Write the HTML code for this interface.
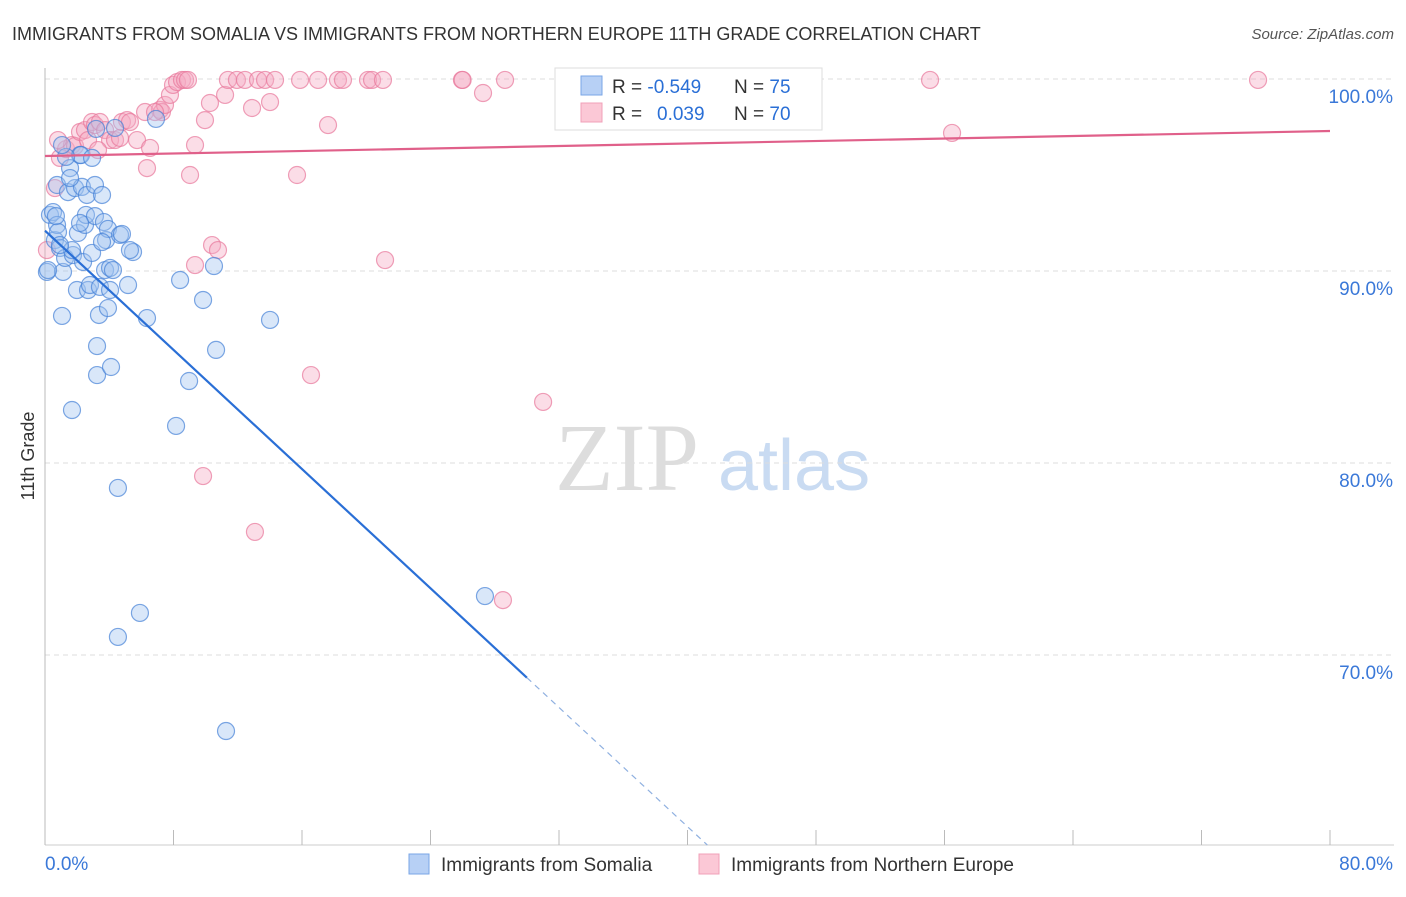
<!DOCTYPE html>
<html><head><meta charset="utf-8"><style>
body{margin:0;background:#fff;font-family:"Liberation Sans",sans-serif}
</style></head><body>
<svg id="chart" width="1406" height="892" viewBox="0 0 1406 892" xmlns="http://www.w3.org/2000/svg" font-family="Liberation Sans, sans-serif">
<text x="12" y="40" font-size="18" fill="#333">IMMIGRANTS FROM SOMALIA VS IMMIGRANTS FROM NORTHERN EUROPE 11TH GRADE CORRELATION CHART</text>
<text x="1394" y="39" font-size="15" fill="#555" text-anchor="end" font-style="italic">Source: ZipAtlas.com</text>
<g>
<text x="555" y="490" font-size="96" fill="#ddd" font-family="Liberation Serif, serif">ZIP</text>
<text x="718" y="490" font-size="72" fill="#c9dbf2">atlas</text>
</g>
<g id="grid"></g>
<g id="axes"></g>
<g id="pts"></g>
<g id="lines"></g>
<text transform="translate(34,456) rotate(-90)" font-size="18" fill="#333" text-anchor="middle">11th Grade</text>
<g>
<rect x="555" y="68" width="267" height="62" fill="#fff" stroke="#ddd"/>
<rect x="581" y="76" width="21" height="19" fill="#b7d0f5" stroke="#7aa6e6"/>
<rect x="581" y="103" width="21" height="19" fill="#fbc8d6" stroke="#f0a0b8"/>
<text x="612" y="93" font-size="19" fill="#333">R = <tspan fill="#2a6fd6">-0.549</tspan></text>
<text x="734" y="93" font-size="19" fill="#333">N = <tspan fill="#2a6fd6">75</tspan></text>
<text x="612" y="120" font-size="19" fill="#333">R = <tspan fill="#2a6fd6" x="657">0.039</tspan></text>
<text x="734" y="120" font-size="19" fill="#333">N = <tspan fill="#2a6fd6">70</tspan></text>
</g>
<g>
<rect x="409" y="854" width="20" height="20" fill="#b7d0f5" stroke="#7aa6e6"/>
<text x="441" y="871" font-size="19" fill="#333">Immigrants from Somalia</text>
<rect x="699" y="854" width="20" height="20" fill="#fbc8d6" stroke="#f0a0b8"/>
<text x="731" y="871" font-size="19" fill="#333">Immigrants from Northern Europe</text>
</g>
</svg>
<script>
const blueX=[0.12,0.31,0.50,0.62,0.75,0.75,0.81,0.93,1.06,1.12,1.25,1.43,1.56,1.68,1.74,1.87,1.99,2.05,2.18,2.24,2.30,2.37,2.49,2.55,2.61,2.68,2.80,2.93,3.11,3.11,3.24,3.24,3.36,3.42,3.55,3.67,3.74,3.80,3.92,3.92,4.05,4.11,4.23,4.36,4.54,4.54,4.67,4.79,5.17,5.48,5.91,6.35,6.91,8.16,8.41,8.97,9.84,10.52,10.65,11.27,14.01,27.39,1.31,3.18,2.93,1.06,4.05,1.68,0.93,0.68,1.56,2.18,3.55,5.29,0.19];
const blueY=[89.95,92.92,93.07,91.61,92.40,94.48,92.03,91.20,87.66,89.95,90.68,94.11,95.36,82.76,90.83,94.32,89.01,91.98,96.04,96.04,94.38,90.47,92.40,92.92,93.96,89.01,89.27,90.94,92.86,94.48,86.09,84.58,87.71,89.17,93.96,92.55,90.05,91.61,92.19,88.07,90.16,85.00,90.05,97.45,78.70,70.94,91.88,91.93,89.27,90.99,72.19,87.55,97.92,81.93,89.53,84.27,88.49,90.26,85.89,66.04,87.45,73.07,95.94,97.40,95.89,96.56,89.01,91.09,91.35,92.86,94.84,92.50,91.51,91.09,90.05];
const pinkX=[0.12,0.62,0.93,1.31,1.68,1.87,2.18,2.49,2.68,2.93,3.11,3.42,3.74,4.05,4.36,4.67,4.79,5.11,5.29,5.73,6.23,6.35,6.54,7.16,7.28,7.47,7.78,7.97,8.22,8.53,8.72,8.90,9.34,9.03,9.96,10.27,10.40,10.77,11.21,11.39,11.95,12.45,12.89,13.26,13.70,14.01,14.32,15.88,17.00,18.24,18.55,20.11,20.36,21.04,25.96,28.64,27.27,33.00,55.10,75.52,56.47,15.69,17.62,21.17,9.34,16.56,31.01,9.84,13.07,28.51,0.81,6.85,3.30,26.0];
const pinkY=[91.09,94.32,95.89,96.35,96.56,96.51,97.24,97.34,96.82,97.76,97.60,97.76,97.34,96.82,96.82,96.93,97.76,97.86,97.76,96.82,98.28,95.36,96.41,98.39,98.28,98.65,99.17,99.69,99.84,99.95,99.95,99.95,96.56,95.00,97.86,98.75,91.35,91.09,99.17,99.95,99.95,99.95,98.49,99.95,99.95,98.80,99.95,99.95,99.95,99.95,99.95,99.95,99.95,99.95,99.95,99.95,99.27,99.95,99.95,99.95,97.19,95.00,97.60,90.57,90.31,84.58,83.18,79.32,76.41,72.86,96.82,98.28,96.30,99.95];
const yTicks=[100,90,80,70];
const yTickLabels=["100.0%","90.0%","80.0%","70.0%"];
const xTicks=[0,8,16,24,32,40,48,56,64,72,80];
const blueTrend=[92.1,-0.776];
const pinkTrend=[95.99,0.01625];

const X0=45,X1=1330,Y100=79,PPY=19.2,YB=845;
const sx=v=>X0+(v/80)*(X1-X0);
const sy=v=>Y100+(100-v)*PPY;
const NS='http://www.w3.org/2000/svg';
function mk(tag,attrs,parent){const e=document.createElementNS(NS,tag);for(const k in attrs)e.setAttribute(k,attrs[k]);parent.appendChild(e);return e;}
const grid=document.getElementById('grid'),axes=document.getElementById('axes'),pts=document.getElementById('pts'),lines=document.getElementById('lines'),svg=document.getElementById('chart');
yTicks.forEach((t,i)=>{
 const l=mk('line',{x1:X0,x2:1394,y1:sy(t),y2:sy(t),stroke:'#ddd','stroke-dasharray':'5,4'},grid);
 
 
 const tx=mk('text',{x:1393,y:sy(t)+24,'font-size':19,fill:'#3a78d8','text-anchor':'end'},svg);
 tx.textContent=yTickLabels[i];
 
 
});
mk('line',{x1:X0,x2:X0,y1:68,y2:YB,stroke:'#bbb'},axes);
mk('line',{x1:X0,x2:1394,y1:YB,y2:YB,stroke:'#ccc'},axes);
xTicks.forEach(t=>{
 const l=mk('line',{x1:sx(t),x2:sx(t),y1:830,y2:YB,stroke:'#bbb'},axes);
 
 
});
const xl0=mk('text',{x:45,y:870,'font-size':19,fill:'#3a78d8'},svg);xl0.textContent='0.0%';


const xl1=mk('text',{x:1393,y:870,'font-size':19,fill:'#3a78d8','text-anchor':'end'},svg);xl1.textContent='80.0%';


pinkX.forEach((x,i)=>{
 const c=mk('circle',{cx:sx(x),cy:sy(pinkY[i]),r:8.5,fill:'rgba(245,170,195,0.4)',stroke:'rgba(232,120,155,0.7)','stroke-width':1.2},pts);
 
 
});
blueX.forEach((x,i)=>{
 const c=mk('circle',{cx:sx(x),cy:sy(blueY[i]),r:8.5,fill:'rgba(160,195,240,0.4)',stroke:'rgba(70,130,215,0.7)','stroke-width':1.2},pts);
 
 
});
const bAt=x=>blueTrend[0]+blueTrend[1]*x;
const xSolid=30, xEnd=(60.1-blueTrend[0])/blueTrend[1];
const b1=mk('line',{x1:sx(0),y1:sy(bAt(0)),x2:sx(xSolid),y2:sy(bAt(xSolid)),stroke:'#2a6fd6','stroke-width':2.2},lines);


const b2=mk('line',{x1:sx(xSolid),y1:sy(bAt(xSolid)),x2:sx(xEnd),y2:sy(bAt(xEnd)),stroke:'#8fb0e0','stroke-width':1.2,'stroke-dasharray':'6,5'},lines);


const pAt=x=>pinkTrend[0]+pinkTrend[1]*x;
const p1=mk('line',{x1:sx(0),y1:sy(pAt(0)),x2:sx(80),y2:sy(pAt(80)),stroke:'#e0608a','stroke-width':2.2},lines);


</script>
</body></html>
